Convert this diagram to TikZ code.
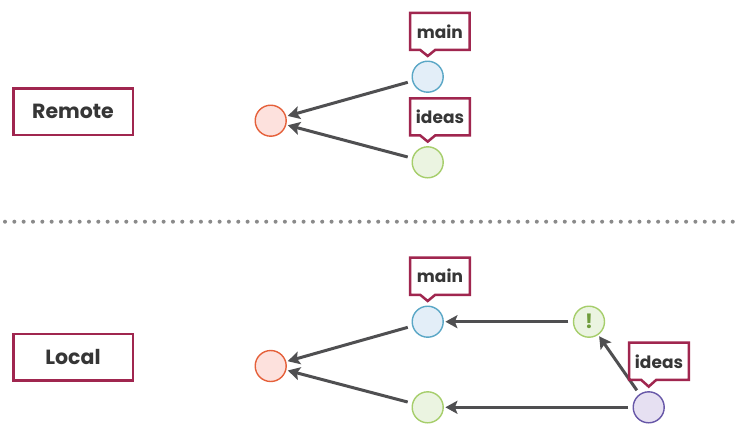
\documentclass[tikz,border=0pt]{standalone}
\usepackage{fontspec}
\setmainfont{Poppins}
\usetikzlibrary{arrows.meta,calc}
\definecolor{crim}{HTML}{A0264F}
\definecolor{txt}{HTML}{363636}
\definecolor{arr}{HTML}{4F4F51}
\definecolor{dotc}{HTML}{8A8A8A}
\definecolor{redF}{HTML}{FDE1DD}\definecolor{redD}{HTML}{E5603A}
\definecolor{bluF}{HTML}{E3EEF8}\definecolor{bluD}{HTML}{5AA7C6}
\definecolor{grnF}{HTML}{EBF4E1}\definecolor{grnD}{HTML}{A6CE6B}
\definecolor{purF}{HTML}{E6E0F2}\definecolor{purD}{HTML}{6757A8}
\definecolor{bang}{HTML}{6F9C3B}
\tikzset{
  areabox/.style={draw=crim, line width=2.5pt, minimum width=119.5pt, minimum height=46.5pt, inner sep=0pt, text=txt, font=\bfseries\fontsize{20.5}{24}\selectfont},
  commit/.style={circle, line width=1.4pt, minimum size=31pt, inner sep=0pt},
  cred/.style={commit, draw=redD, fill=redF},
  cblue/.style={commit, draw=bluD, fill=bluF},
  cgreen/.style={commit, draw=grnD, fill=grnF},
  cpurple/.style={commit, draw=purD, fill=purF},
  tagtext/.style={minimum width=59.2pt, minimum height=36.8pt, inner sep=0pt, text=txt, font=\bfseries\fontsize{17}{20}\selectfont},
  tagline/.style={draw=crim, line width=2.5pt, line join=miter},
  link/.style={draw=arr, line width=3pt, -{Stealth[length=12pt,width=13pt,inset=2.5pt]}, shorten <=4.5pt, shorten >=1.5pt},
  dotline/.style={draw=dotc, line width=4pt, line cap=round, dash pattern=on 0pt off 9.33pt},
}
\newcommand{\branchtag}[4]{%
  \node[tagtext] (#1) at (#2) {#4};
  \draw[tagline] (#1.north west) -- (#1.north east) -- (#1.south east)
    -- ($(#3.north |- #1.south)+(7.5,0)$) -- ($(#3.north)+(0,-4.5)$)
    -- ($(#3.north |- #1.south)+(-7.5,0)$) -- (#1.south west) -- cycle;
}
\begin{document}
\begin{tikzpicture}[x=1pt,y=-1pt]
\useasboundingbox[fill=white] (0,0) rectangle (741,440);
% areas
\node[areabox] (remote) at (73,111.5) {Remote};
\node[areabox] (local) at (73,357) {Local};
% separator
\coordinate (sepL) at (5,221.7);
\coordinate (sepR) at (741,221.7);
\draw[dotline] (sepL) -- (sepR);
% remote commits
\node[cred] (r1) at (270.7,120.7) {};
\node[cblue] (b1) at (427.7,76.7) {};
\node[cgreen] (g1) at (427.7,162.3) {};
\draw[link] (b1) -- (r1);
\draw[link] (g1) -- (r1);
\branchtag{main1}{439.85,31.35}{b1}{main}
\branchtag{ideas1}{440,116.85}{g1}{ideas}
% local commits
\node[cred] (r2) at (270.7,366) {};
\node[cblue] (b2) at (427.7,321.7) {};
\node[cgreen] (g2) at (427.7,407.3) {};
\node[cgreen, text=bang, font=\bfseries\fontsize{20}{22}\selectfont] (e2) at (589,321.7) {!};
\node[cpurple] (p2) at (648.7,407.3) {};
\draw[link] (b2) -- (r2);
\draw[link] (g2) -- (r2);
\draw[link] (e2) -- (b2);
\draw[link] (p2) -- (g2);
\draw[link] (p2) -- (e2);
\branchtag{main2}{440,276.2}{b2}{main}
\branchtag{ideas2}{659,361.3}{p2}{ideas}
\end{tikzpicture}
\end{document}
